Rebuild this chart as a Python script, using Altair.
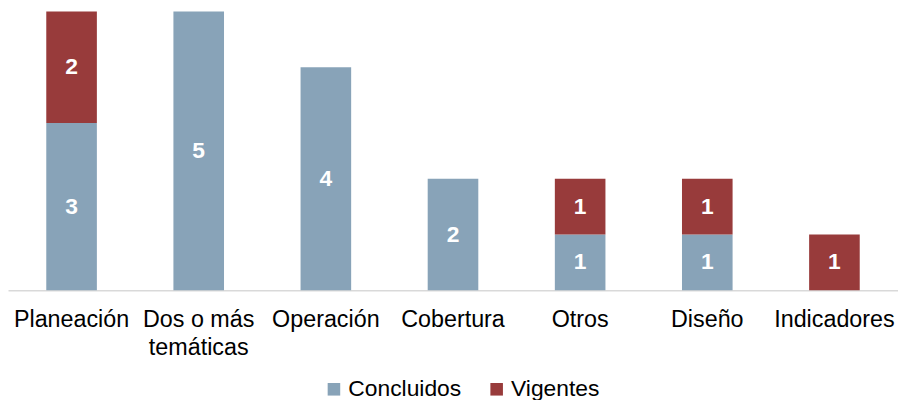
import altair as alt
import pandas as pd

categories = ["Planeación", "Dos o más temáticas", "Operación", "Cobertura", "Otros", "Diseño", "Indicadores"]
concluidos = [3, 5, 4, 2, 1, 1, 0]
vigentes = [2, 0, 0, 0, 1, 1, 1]
series = ["Concluidos", "Vigentes"]
colors = ["#88A3B8", "#983B3B"]

rows = []
for c, a, b in zip(categories, concluidos, vigentes):
    rows.append({"cat": c, "serie": "Concluidos", "value": a, "ord": 0})
    rows.append({"cat": c, "serie": "Vigentes", "value": b, "ord": 1})
df = pd.DataFrame(rows)

FONT = "Liberation Sans"

base = alt.Chart(df).transform_filter("datum.value > 0").transform_stack(
    stack="value", groupby=["cat"], as_=["v0", "v1"], sort=[alt.SortField("ord", order="ascending")]
).transform_calculate(mid="(datum.v0 + datum.v1) / 2")

x = alt.X("cat:N", sort=categories, title=None,
          scale=alt.Scale(paddingInner=0, paddingOuter=0),
          axis=alt.Axis(labelAngle=0, labelFont=FONT, labelFontSize=23.5, labelColor="#000000",
                        ticks=False, domainColor="#D9D9D9", domainWidth=1.5, labelPadding=17,
                        labelLineHeight=28.5, labelBaseline="top",
                        labelExpr="datum.label == 'Dos o más temáticas' ? ['Dos o más', 'temáticas'] : datum.label"))

bars = base.mark_bar(size=51).encode(
    x=x,
    y=alt.Y("v0:Q", scale=alt.Scale(domain=[0, 5], nice=False), axis=None),
    y2="v1:Q",
    color=alt.Color("serie:N", scale=alt.Scale(domain=series, range=colors),
                    legend=alt.Legend(title=None, orient="none", direction="horizontal",
                                      legendX=317, legendY=369, symbolType="square", symbolSize=160,
                                      symbolStrokeWidth=0, labelFont=FONT, labelFontSize=23,
                                      labelColor="#000000", columnPadding=24, symbolOffset=0,
                                      labelOffset=3)),
)

texts = base.mark_text(font=FONT, fontSize=23, fontWeight="bold", color="white", baseline="middle").encode(
    x=alt.X("cat:N", sort=categories),
    y=alt.Y("mid:Q"),
    text="value:Q",
)

chart = alt.layer(bars, texts).properties(
    width=897, height=281,
    autosize=alt.AutoSizeParams(type="none"),
    padding={"left": 0, "top": 2, "right": 0, "bottom": 110},
).configure_view(stroke=None)

chart.save("out.html", embed_options={"renderer": "svg", "actions": False})
